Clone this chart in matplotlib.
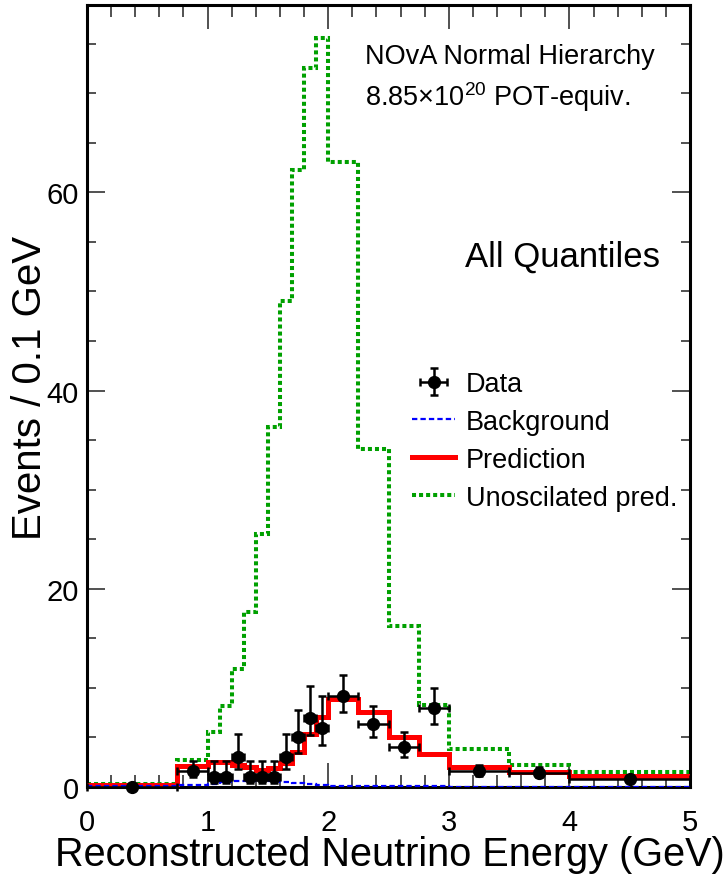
import matplotlib
matplotlib.use("Agg")
import matplotlib.pyplot as plt
from matplotlib.ticker import MultipleLocator
import numpy as np

plt.rcParams['font.family'] = ['Liberation Sans', 'DejaVu Sans']
plt.rcParams['mathtext.fontset'] = 'custom'
plt.rcParams['mathtext.rm'] = 'Liberation Sans'
plt.rcParams['mathtext.it'] = 'Liberation Sans:italic'

# Bin edges (GeV)
edges = [0.0, 0.75, 1.0, 1.1, 1.2, 1.3, 1.4, 1.5, 1.6, 1.7, 1.8, 1.9, 2.0,
         2.25, 2.5, 2.75, 3.0, 3.5, 4.0, 5.0]

# Events / 0.1 GeV
unoscillated = [0.3, 2.7, 5.5, 8.2, 11.9, 17.7, 25.5, 36.3, 49.0, 62.3, 72.5, 75.6,
                63.1, 34.1, 16.2, 8.25, 3.86, 2.23, 1.55]
prediction = [0.23, 2.1, 2.55, 2.5, 2.2, 2.0, 1.75, 1.9, 2.4, 3.5, 5.3, 7.1,
              8.9, 7.55, 5.05, 3.3, 2.0, 1.5, 1.15]
background = [0.07, 0.2, 0.3, 0.53, 0.57, 0.57, 0.57, 0.57, 0.5, 0.4, 0.3, 0.2,
              0.13, 0.1, 0.07, 0.06, 0.05, 0.04, 0.03]
data = [0.0, 1.6, 1.0, 1.0, 3.0, 1.0, 1.0, 1.0, 3.0, 5.0, 7.0, 6.0,
        9.2, 6.4, 4.0, 8.0, 1.6, 1.4, 0.8]
data_hi = [0.13, 2.62, 2.62, 2.62, 5.3, 2.62, 2.62, 2.62, 5.3, 7.8, 10.2, 9.2,
           11.3, 8.2, 5.5, 10.0, 2.27, 2.04, 1.14]
data_lo = [0.0, 0.97, 0.4, 0.4, 1.8, 0.4, 0.4, 0.4, 1.8, 3.4, 5.2, 4.2,
           7.6, 5.0, 3.0, 6.4, 1.13, 0.96, 0.56]

W, H = 725, 879
fig = plt.figure(figsize=(W / 100, H / 100), dpi=100)
ax = fig.add_axes([87 / W, 1 - 788 / H, (690 - 87) / W, (788 - 6) / H])

green = '#00a000'
ax.stairs(unoscillated, edges, color=green, lw=2.9, linestyle=(0, (1.0, 0.75)),
          baseline=None, label='Unoscilated pred.', zorder=2)
ax.stairs(prediction, edges, color='#ff0000', lw=3.6, baseline=None,
          label='Prediction', zorder=3)
ax.stairs(background, edges, color='#0000ff', lw=1.6, linestyle=(0, (2.4, 1.4)),
          baseline=None, label='Background', zorder=4)

e = np.array(edges)
centers = 0.5 * (e[:-1] + e[1:])
half = 0.5 * (e[1:] - e[:-1])
d = np.array(data)
yerr = [d - np.array(data_lo), np.array(data_hi) - d]
ax.errorbar(centers, d, xerr=half, yerr=yerr, fmt='o', color='black',
            ms=8.5, elinewidth=1.8, capsize=3, capthick=1.8, label='Data',
            zorder=5, clip_on=False)

ax.set_xlim(0, 5)
ax.set_ylim(0, 78.9)
ax.xaxis.set_major_locator(MultipleLocator(1))
ax.xaxis.set_minor_locator(MultipleLocator(0.2))
ax.yaxis.set_major_locator(MultipleLocator(20))
ax.yaxis.set_minor_locator(MultipleLocator(5))
ax.tick_params(axis='both', which='both', direction='in', top=True, right=True,
               width=1.2, color='#333333')
ax.tick_params(axis='x', which='major', length=17, labelsize=21, pad=15)
ax.tick_params(axis='x', which='minor', length=8.5)
ax.tick_params(axis='y', which='major', length=13, labelsize=21, pad=6)
ax.tick_params(axis='y', which='minor', length=6.5)
for s in ax.spines.values():
    s.set_linewidth(2.2)

ax.set_xlabel('Reconstructed Neutrino Energy (GeV)', fontsize=28.5)
ax.set_ylabel('Events / 0.1 GeV', fontsize=29)
ax.xaxis.set_label_coords((390 - 87) / 603, -(836 - 788) / 782)
ax.yaxis.set_label_coords(-(87 - 49) / 603, (788 - 388) / 782)

ax.text(365, H - 57, 'NOvA Normal Hierarchy', transform=None, fontsize=19.5,
        ha='left', va='center')
ax.text(365, H - 97, '8.85×10$^{20}$ POT-equiv.', transform=None, fontsize=19.5,
        ha='left', va='center')
ax.text(465, H - 257, 'All Quantiles', transform=None, fontsize=25,
        ha='left', va='center')

handles, labels = ax.get_legend_handles_labels()
order = ['Data', 'Background', 'Prediction', 'Unoscilated pred.']
hmap = dict(zip(labels, handles))
ax.legend([hmap[k] for k in order], order, loc='upper left',
          bbox_to_anchor=((412 - 87) / 603, (788 - 372) / 782),
          frameon=False, fontsize=19.5, handlelength=1.6, handletextpad=0.4,
          labelspacing=0.44, borderpad=0, borderaxespad=0)

fig.savefig('out.png', dpi=100)
